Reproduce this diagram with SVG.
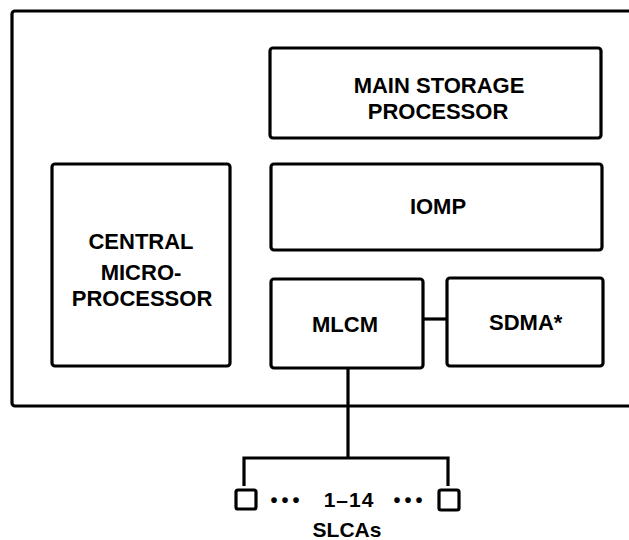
<svg xmlns="http://www.w3.org/2000/svg" width="629" height="540" viewBox="0 0 629 540">
<style>
.box{fill:none;stroke:#000;stroke-width:3.2;stroke-linejoin:round}
.ln{fill:none;stroke:#000;stroke-width:3.2}
.t{font-family:"Liberation Sans",Arial,sans-serif;font-weight:bold;font-size:22px;fill:#000;text-anchor:middle}
</style>
<rect width="629" height="540" fill="#fff"/>
<g id="frame"><rect class="box" x="12" y="11" width="640" height="395" rx="3"/></g>
<g id="main-storage"><rect class="box" x="270" y="48" width="331" height="90" rx="3"/>
<text class="t" x="439" y="93">MAIN STORAGE</text><text class="t" x="438" y="119">PROCESSOR</text></g>
<g id="iomp"><rect class="box" x="271" y="164" width="331" height="86" rx="3"/>
<text class="t" x="438" y="214">IOMP</text></g>
<g id="central"><rect class="box" x="52" y="164" width="178" height="202" rx="3"/>
<text class="t" x="141" y="249">CENTRAL</text><text class="t" x="141" y="280">MICRO-</text><text class="t" x="142" y="306">PROCESSOR</text></g>
<g id="mlcm"><rect class="box" x="271" y="279" width="152" height="89" rx="3"/>
<text class="t" x="345" y="332">MLCM</text></g>
<g id="sdma"><rect class="box" x="447" y="278" width="156" height="88" rx="3"/>
<text class="t" x="489" y="330" style="text-anchor:start">SDMA*</text></g>
<g id="connectors">
<line class="ln" x1="423" y1="319" x2="447" y2="319"/>
<line class="ln" x1="348" y1="368" x2="348" y2="458"/>
<polyline class="ln" points="244,486 244,458 448,458 448,486"/>
</g>
<g id="slcas">
<rect class="box" x="236" y="490" width="20" height="19" rx="2"/>
<rect class="box" x="439" y="490" width="20" height="20" rx="2"/>
<text class="t" x="287" y="507" style="font-size:20px;letter-spacing:4px">•••</text>
<text class="t" x="349" y="507" style="font-size:21px;letter-spacing:1px">1–14</text>
<text class="t" x="410" y="507" style="font-size:20px;letter-spacing:4px">•••</text>
<text class="t" x="347" y="537" style="font-size:21px">SLCAs</text>
</g>
</svg>
